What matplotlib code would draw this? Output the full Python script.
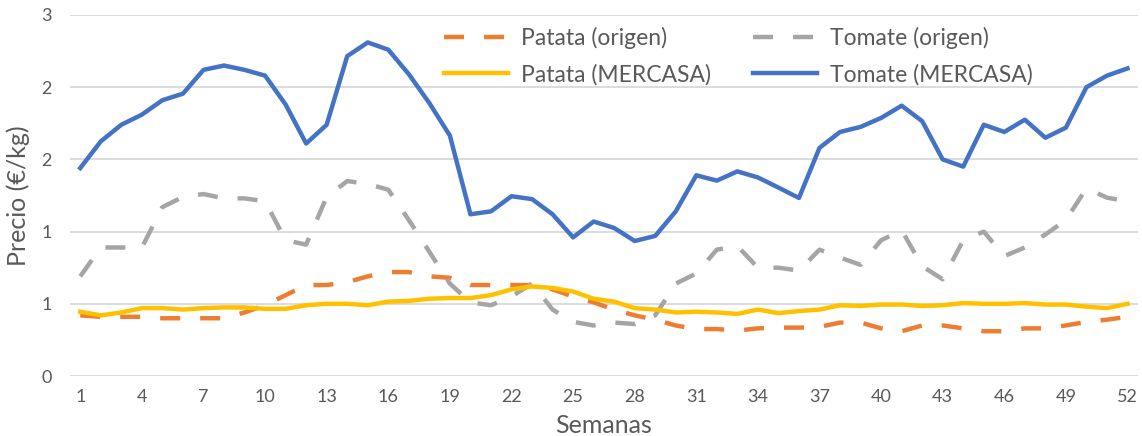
import numpy as np
import matplotlib
matplotlib.use("Agg")
import matplotlib.pyplot as plt
from matplotlib.ticker import FuncFormatter

plt.rcParams['font.family'] = ['Lato', 'DejaVu Sans']

weeks = list(range(1, 53))

patata_origen = [0.42, 0.41, 0.41, 0.41, 0.40, 0.40, 0.40, 0.40, 0.44, 0.49,
                 0.56, 0.63, 0.63, 0.65, 0.69, 0.72, 0.72, 0.69, 0.68, 0.63,
                 0.63, 0.63, 0.63, 0.60, 0.55, 0.51, 0.46, 0.42, 0.39, 0.35,
                 0.325, 0.325, 0.315, 0.33, 0.335, 0.335, 0.34, 0.37, 0.37, 0.33,
                 0.31, 0.35, 0.35, 0.33, 0.31, 0.31, 0.33, 0.33, 0.35, 0.375,
                 0.39, 0.41]

tomate_origen = [0.69, 0.89, 0.89, 0.89, 1.17, 1.24, 1.26, 1.23, 1.23, 1.21,
                 0.94, 0.91, 1.24, 1.35, 1.33, 1.29, 1.08, 0.86, 0.64, 0.51,
                 0.49, 0.55, 0.64, 0.46, 0.375, 0.35, 0.37, 0.36, 0.42, 0.64,
                 0.71, 0.875, 0.90, 0.75, 0.75, 0.73, 0.875, 0.82, 0.77, 0.94,
                 1.01, 0.76, 0.67, 0.94, 1.00, 0.83, 0.89, 0.98, 1.08, 1.30,
                 1.235, 1.21]

patata_mercasa = [0.445, 0.42, 0.44, 0.47, 0.47, 0.46, 0.47, 0.475, 0.475, 0.465,
                  0.465, 0.49, 0.50, 0.50, 0.49, 0.515, 0.52, 0.535, 0.54, 0.54,
                  0.56, 0.60, 0.62, 0.61, 0.585, 0.535, 0.515, 0.47, 0.46, 0.44,
                  0.445, 0.44, 0.43, 0.46, 0.435, 0.45, 0.46, 0.49, 0.485, 0.495,
                  0.495, 0.485, 0.49, 0.505, 0.50, 0.50, 0.505, 0.495, 0.495, 0.48,
                  0.47, 0.50]

tomate_mercasa = [1.44, 1.625, 1.74, 1.81, 1.91, 1.955, 2.12, 2.15, 2.12, 2.08,
                  1.88, 1.61, 1.74, 2.215, 2.31, 2.26, 2.09, 1.89, 1.665, 1.12,
                  1.14, 1.245, 1.225, 1.12, 0.96, 1.07, 1.025, 0.935, 0.97, 1.14,
                  1.39, 1.353, 1.417, 1.375, 1.305, 1.233, 1.58, 1.69, 1.725, 1.787,
                  1.872, 1.765, 1.5, 1.45, 1.74, 1.69, 1.775, 1.65, 1.72, 2.0,
                  2.08, 2.13]

grey_txt = '#595959'

fig = plt.figure(figsize=(11.42, 4.36), dpi=100)
ax = fig.add_axes([0.0613, 0.1376, 0.935, 0.828])

l1, = ax.plot(weeks, patata_origen, color='#ED7D31', lw=3.2, dashes=(4.5, 4.5),
              dash_capstyle='butt', label='Patata (origen)')
l2, = ax.plot(weeks, tomate_origen, color='#A5A5A5', lw=3.2, dashes=(4.5, 4.5),
              dash_capstyle='butt', label='Tomate (origen)')
l3, = ax.plot(weeks, patata_mercasa, color='#FFC000', lw=3.2,
              solid_joinstyle='round', label='Patata (MERCASA)')
l4, = ax.plot(weeks, tomate_mercasa, color='#4472C4', lw=3.2,
              solid_joinstyle='round', label='Tomate (MERCASA)')

ax.set_xlim(0.5, 52.5)
ax.set_ylim(0, 2.5)
ax.set_xticks(range(1, 53, 3))
ax.set_yticks(np.arange(0, 2.51, 0.5))
ax.yaxis.set_major_formatter(FuncFormatter(lambda v, p: f"{int(np.floor(v + 0.5))}"))
ax.grid(axis='y', color='#D9D9D9', lw=1.3)
ax.set_axisbelow(True)
for s in ax.spines.values():
    s.set_visible(False)
ax.tick_params(length=0, labelsize=13, colors=grey_txt)
ax.tick_params(axis='x', pad=9)
ax.tick_params(axis='y', pad=13)

ax.set_xlabel('Semanas', fontsize=18, color=grey_txt, labelpad=7)
ax.set_ylabel('Precio (€/kg)', fontsize=18, color=grey_txt, labelpad=8)

leg = ax.legend(handles=[l1, l3, l2, l4], ncol=2, frameon=False, fontsize=16.5,
                loc='upper left', bbox_to_anchor=(0.331, 1.023),
                handlelength=2.8, handletextpad=0.55, columnspacing=1.85,
                labelspacing=0.62)
for t in leg.get_texts():
    t.set_color(grey_txt)

fig.savefig('out.png', dpi=100)
